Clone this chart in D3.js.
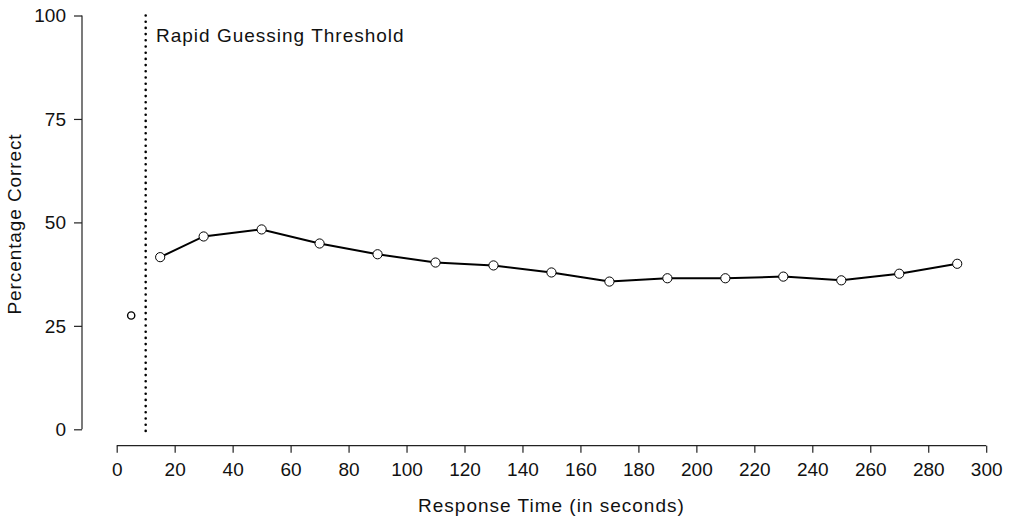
<!DOCTYPE html>
<html>
<head>
<meta charset="utf-8">
<script src="https://cdn.jsdelivr.net/npm/d3@7"></script>
<style>
  body { margin: 0; background: #fff; }
  svg { font-family: "Liberation Sans", Arial, Helvetica, sans-serif; }
</style>
</head>
<body>
<div id="chartArea"></div>
<script>
// response time bins (seconds) and percentage correct
var rapidTime = [5];
var rapidPct = [27.5];
var times = [15, 30, 50, 70, 90, 110, 130, 150, 170, 190, 210, 230, 250, 270, 290];
var pcts = [41.6, 46.6, 48.3, 44.9, 42.3, 40.3, 39.6, 37.9, 35.7, 36.5, 36.5, 36.9, 36.0, 37.6, 40.0];
var xTicks = d3.range(0, 301, 20);
var yTicks = [0, 25, 50, 75, 100];
var threshold = 10;

var width = 1009, height = 517;
var xscale = d3.scaleLinear().domain([0, 300]).range([116.7, 986.2]);
var yscale = d3.scaleLinear().domain([0, 100]).range([429.3, 15.5]);

var svg = d3.select('#chartArea').append('svg')
    .attr('width', width)
    .attr('height', height);

// y axis
var yAxis = svg.append('g')
    .attr('transform', 'translate(82,0)')
    .call(d3.axisLeft(yscale).tickValues(yTicks).tickSize(8).tickPadding(8));
// x axis
var xAxis = svg.append('g')
    .attr('transform', 'translate(0,445.7)')
    .call(d3.axisBottom(xscale).tickValues(xTicks).tickSize(7).tickPadding(10));

[yAxis, xAxis].forEach(function(a) {
    a.select('.domain').attr('stroke', '#222').attr('stroke-width', 1.2)
        .attr('d', a === yAxis ? 'M0,' + yscale(0) + 'V' + yscale(100) : 'M' + xscale(0) + ',0H' + xscale(300));
    a.selectAll('.tick line').attr('stroke', '#222').attr('stroke-width', 1.2);
    a.selectAll('.tick text').attr('fill', '#111').style('font-size', '19px').attr('font-family', null);
});
yAxis.selectAll('.tick text').attr('dy', '0.33em');

// threshold line
svg.append('line')
    .attr('x1', xscale(threshold)).attr('x2', xscale(threshold))
    .attr('y1', yscale(100)).attr('y2', yscale(-1.6))
    .attr('stroke', '#000')
    .attr('stroke-width', 2.6)
    .attr('stroke-linecap', 'round')
    .attr('stroke-dasharray', '0,6.2');

svg.append('text')
    .attr('x', 156).attr('y', 41.5)
    .style('font-size', '19px')
    .style('letter-spacing', '1px')
    .attr('fill', '#111')
    .text('Rapid Guessing Threshold');

// main series
var pts = times.map(function(t, i) { return {t: t, p: pcts[i]}; });
svg.append('path')
    .datum(pts)
    .attr('fill', 'none')
    .attr('stroke', '#000')
    .attr('stroke-width', 2)
    .attr('d', d3.line().x(function(d){ return xscale(d.t); }).y(function(d){ return yscale(d.p); }));

svg.append('g').selectAll('circle').data(pts).enter().append('circle')
    .attr('cx', function(d){ return xscale(d.t); })
    .attr('cy', function(d){ return yscale(d.p); })
    .attr('r', 4.6)
    .attr('fill', '#fff')
    .attr('stroke', '#000')
    .attr('stroke-width', 1);

// rapid guess point
svg.append('g').selectAll('circle').data(rapidTime).enter().append('circle')
    .attr('cx', function(d){ return xscale(d); })
    .attr('cy', function(d, i){ return yscale(rapidPct[i]); })
    .attr('r', 3.6)
    .attr('fill', '#fff')
    .attr('stroke', '#000')
    .attr('stroke-width', 1.4);

// axis titles
svg.append('text')
    .attr('x', xscale(150)).attr('y', 511.5)
    .attr('text-anchor', 'middle')
    .style('font-size', '19px')
    .style('letter-spacing', '1px')
    .attr('fill', '#111')
    .text('Response Time (in seconds)');

svg.append('text')
    .attr('transform', 'translate(21,224) rotate(-90)')
    .attr('text-anchor', 'middle')
    .style('font-size', '19px')
    .style('letter-spacing', '0.9px')
    .attr('fill', '#111')
    .text('Percentage Correct');
</script>
</body>
</html>
